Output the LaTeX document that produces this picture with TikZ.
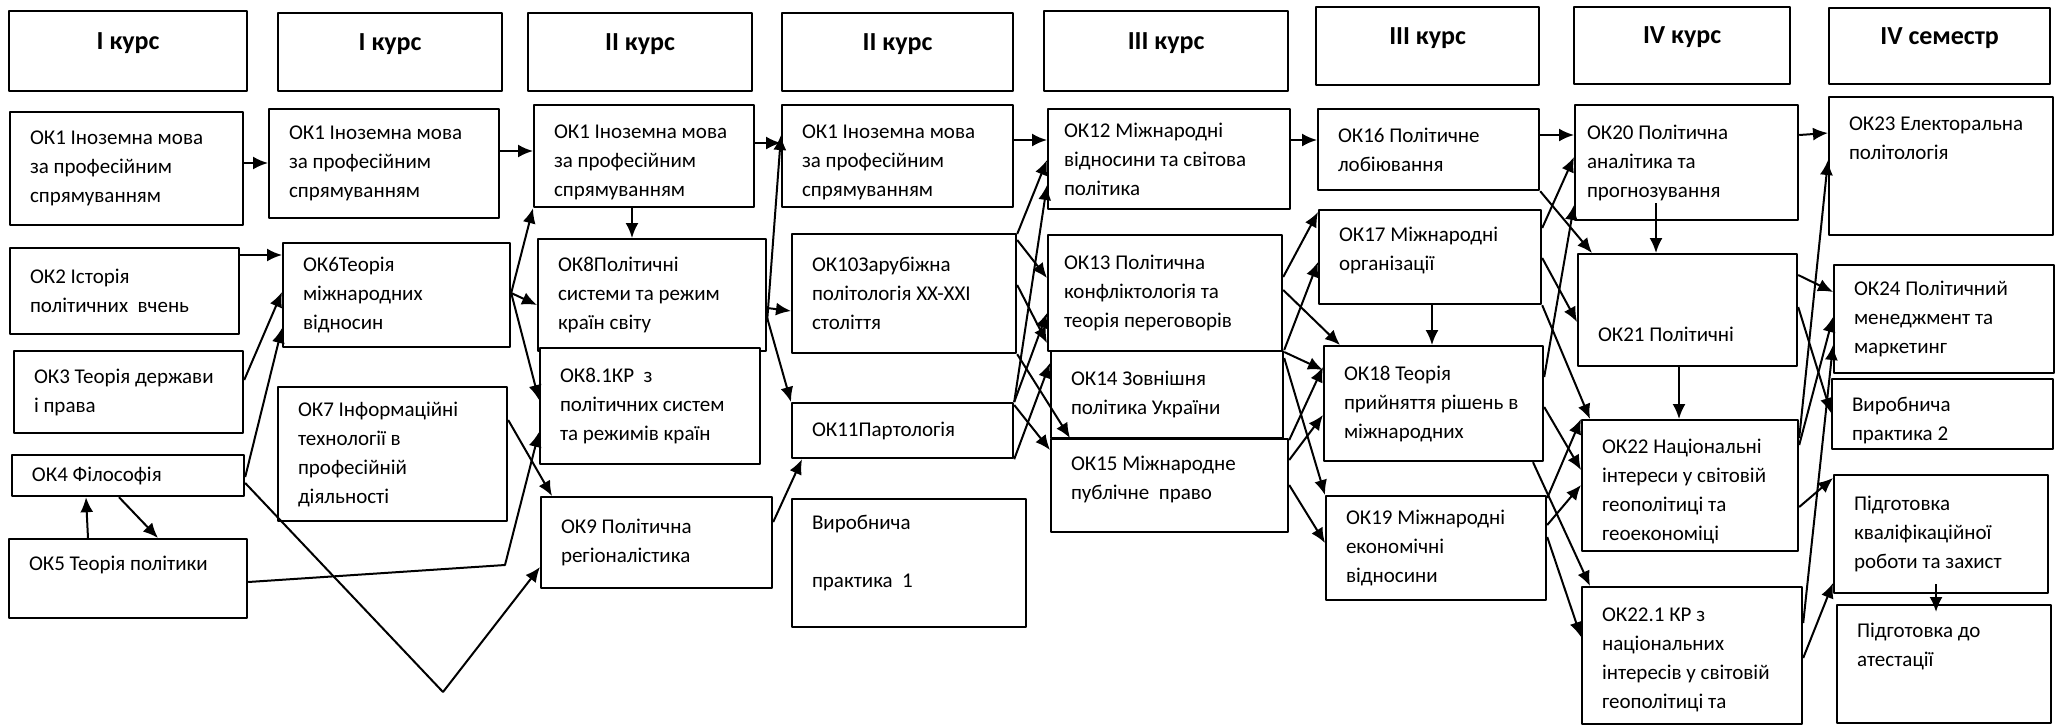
\documentclass[tikz,border=0pt]{standalone}
\usepackage{fontspec}
\setmainfont{Carlito}
\usetikzlibrary{arrows.meta}
\newcommand\fs{\fontsize{10.5}{14.5}\selectfont}
\newcommand\hfs{\fontsize{13}{15}\selectfont\bfseries}
\tikzset{
  box/.style={draw, fill=white, line width=1.1pt, anchor=north west, inner sep=0pt},
  head/.style={box, font=\hfs, text height=8.5pt, text depth=10.5pt},
  txt/.style={anchor=west, xshift=10pt, inner sep=0pt, align=left, font=\fs},
}
\begin{document}
\begin{tikzpicture}[>={Latex[length=7.5pt,width=6.5pt]}, line join=bevel, x=0.5pt, y=-0.5pt, line width=1pt]
\useasboundingbox (0,0) rectangle (2062,725);
%% headers
\node (h1) at (8,10) [head, minimum width=119pt, minimum height=40pt] {І курс};
\node (h2) at (277,12) [head, minimum width=112pt, minimum height=39pt] {І курс};
\node (h3) at (527,12) [head, minimum width=112pt, minimum height=39pt] {ІІ курс};
\node (h4) at (781,12) [head, minimum width=115.5pt, minimum height=39pt] {ІІ курс};
\node (h5) at (1043,10) [head, minimum width=122pt, minimum height=40pt] {ІІІ курс};
\node (h6) at (1315,6) [head, minimum width=111.5pt, minimum height=39pt] {ІІІ курс};
\node (h7) at (1573,6) [head, minimum width=108pt, minimum height=38.5pt] {IV курс};
\node (h8) at (1828,7) [head, minimum width=110.5pt, minimum height=38pt] {IV семестр};
%% I
\node (ok1a) at (9,111) [box, minimum width=116.5pt, minimum height=56.5pt, label={[txt]west:{ОК1 Іноземна мова\\за професійним\\спрямуванням}}] {};
\node (ok2) at (9,247) [box, minimum width=114.5pt, minimum height=43pt, label={[txt]west:{ОК2 Історія\\політичних~~вчень}}] {};
\node (ok3) at (13,350) [box, minimum width=114.5pt, minimum height=41pt, label={[txt]west:{ОК3 Теорія держави\\і права}}] {};
\node (ok4) at (11,454) [box, minimum width=116pt, minimum height=20.5pt, label={[txt]west:{ОК4 Філософія}}] {};
\node (ok5) at (8,538) [box, minimum width=119pt, minimum height=39.5pt, label={[txt, yshift=7pt]west:{ОК5 Теорія політики}}] {};
%% I (2)
\node (ok1b) at (268,108) [box, minimum width=115pt, minimum height=54.5pt, label={[txt]west:{ОК1 Іноземна мова\\за професійним\\спрямуванням}}] {};
\node (ok6) at (282,242) [box, minimum width=113.5pt, minimum height=52pt, label={[txt]west:{ОК6Теорія\\міжнародних\\відносин}}] {};
\node (ok7) at (277,386) [box, minimum width=114.5pt, minimum height=67pt, label={[txt]west:{ОК7 Інформаційні\\технології в\\професійній\\діяльності}}] {};
%% II
\node (ok1c) at (533,104) [box, minimum width=110pt, minimum height=51pt, label={[txt, yshift=-3pt]west:{ОК1 Іноземна мова\\за професійним\\спрямуванням}}] {};
\node (ok8) at (537,238) [box, minimum width=114pt, minimum height=56pt, label={[txt]west:{ОК8Політичні\\системи та режим\\країн світу}}] {};
\node (ok81) at (539,347) [box, minimum width=110pt, minimum height=58pt, label={[txt]west:{ОК8.1КР~~з\\політичних систем\\та режимів країн}}] {};
\node (ok9) at (540,496) [box, minimum width=115.5pt, minimum height=45.5pt, label={[txt]west:{ОК9 Політична\\регіоналістика}}] {};
%% II (2)
\node (ok1d) at (781,104) [box, minimum width=115.5pt, minimum height=51pt, label={[txt, yshift=-3pt]west:{ОК1 Іноземна мова\\за професійним\\спрямуванням}}] {};
\node (ok10) at (791,233) [box, minimum width=112pt, minimum height=59.5pt, label={[txt]west:{ОК10Зарубіжна\\політологія XX-XXI\\століття}}] {};
\node (ok11) at (791,402) [box, minimum width=110.5pt, minimum height=27.5pt, label={[txt]west:{ОК11Партологія}}] {};
\node (vp1) at (791,498) [box, minimum width=117pt, minimum height=64pt, label={[txt, yshift=5pt]west:{Виробнича\\[14.5pt]практика~~1}}] {};
%% III
\node (ok12) at (1047,108) [box, minimum width=121pt, minimum height=50pt, label={[txt, xshift=-2pt]west:{ОК12 Міжнародні\\відносини та світова\\політика}}] {};
\node (ok13) at (1047,234) [box, minimum width=117pt, minimum height=58pt, label={[txt, xshift=-2pt]west:{ОК13 Політична\\конфліктологія та\\теорія переговорів}}] {};
\node (ok14) at (1050,350) [box, minimum width=116pt, minimum height=43.5pt, label={[txt]west:{ОК14 Зовнішня\\політика України}}] {};
\node (ok15) at (1050,438) [box, minimum width=118.5pt, minimum height=46.5pt, label={[txt, yshift=3pt]west:{ОК15 Міжнародне\\публічне~~право}}] {};
%% III (2)
\node (ok16) at (1317,108) [box, minimum width=110.5pt, minimum height=40.5pt, label={[txt]west:{ОК16 Політичне\\лобіювання}}] {};
\node (ok17) at (1318,209) [box, minimum width=111pt, minimum height=47pt, label={[txt, yshift=3.5pt]west:{ОК17 Міжнародні\\організації}}] {};
\node (ok18) at (1323,345) [box, minimum width=109.5pt, minimum height=57.5pt, label={[txt]west:{ОК18 Теорія\\прийняття рішень в\\міжнародних}}] {};
\node (ok19) at (1325,495) [box, minimum width=110pt, minimum height=52pt, label={[txt]west:{ОК19 Міжнародні\\економічні\\відносини}}] {};
%% IV
\node (ok20) at (1574,104) [box, minimum width=111.5pt, minimum height=57.5pt, label={[txt, xshift=-4pt]west:{ОК20 Політична\\аналітика та\\прогнозування}}] {};
\node (ok21) at (1577,253) [box, minimum width=109.5pt, minimum height=56pt, label={[txt, yshift=-12pt]west:{ОК21 Політичні}}] {};
\node (ok22) at (1581,419) [box, minimum width=108pt, minimum height=65.5pt, label={[txt, yshift=-3pt]west:{ОК22 Національні\\інтереси у світовій\\геополітиці та\\геоекономіці}}] {};
\node (ok221) at (1581,586) [box, minimum width=110pt, minimum height=68.5pt, label={[txt, yshift=-2pt]west:{ОК22.1 КР з\\національних\\інтересів у світовій\\геополітиці та}}] {};
%% IV semester
\node (ok23) at (1828,96) [box, minimum width=112pt, minimum height=69pt, label={[txt, yshift=14pt]west:{ОК23 Електоральна\\політологія}}] {};
\node (ok24) at (1833,264) [box, minimum width=110pt, minimum height=54pt, label={[txt]west:{ОК24 Політичний\\менеджмент та\\маркетинг}}] {};
\node (vp2) at (1831,378) [box, minimum width=110.5pt, minimum height=35pt, label={[txt, yshift=-3pt]west:{Виробнича\\практика 2}}] {};
\node (kval) at (1833,474) [box, minimum width=107pt, minimum height=59pt, label={[txt]west:{Підготовка\\кваліфікаційної\\роботи та захист}}] {};
\node (atest) at (1836,604) [box, minimum width=107pt, minimum height=59pt, label={[txt, yshift=9pt]west:{Підготовка до\\атестації}}] {};
%% bends
\coordinate (b1) at (505,565);
\coordinate (b2) at (443,692);
%% I -> I
\draw [->] (ok1a.east |- 0,163) -- (ok1b.west |- 0,163);
\draw [->] (ok2.east |- 0,255) -- (ok6.west |- 0,255);
\draw [->] (ok3.east |- 0,380) -- (ok6.west |- 0,292);
\draw [->] (ok4.east |- 0,477) -- (ok6.west |- 0,328);
\draw [->] (ok5.north -| 88,0) -- (ok4.south -| 86,0);
\draw [->] (ok4.south -| 119,0) -- (ok5.north -| 158,0);
\draw [->] (ok5.east |- 0,582) -- (b1) -- (ok81.west |- 0,432);
\draw [->] (ok4.east |- 0,483) -- (b2) -- (ok9.west |- 0,567);
\draw [->] (ok7.east |- 0,420) -- (ok9.north -| 552,0);
%% I -> II
\draw [->] (ok1b.east |- 0,151) -- (ok1c.west |- 0,151);
\draw [->] (ok6.east |- 0,293) -- (ok1c.south west);
\draw [->] (ok6.east |- 0,293) -- (ok8.west |- 0,305);
\draw [->] (ok6.east |- 0,293) -- (ok81.west |- 0,400);
\draw [->] (ok1c.south -| 632,0) -- (ok8.north -| 632,0);
%% II -> II
\draw [->] (ok1c.east |- 0,143) -- (ok1d.west |- 0,143);
\draw [->] (ok8.east |- 0,320) -- (ok1d.west |- 0,135);
\draw [->] (ok8.east |- 0,308) -- (ok10.west |- 0,311);
\draw [->] (ok8.east |- 0,318) -- (ok11.north west);
\draw [->] (ok9.east |- 0,522) -- (ok11.south -| 802,0);
%% II -> III
\draw [->] (ok1d.east |- 0,140) -- (ok12.west |- 0,140);
\draw [->] (ok10.east |- 0,234) -- (ok12.west |- 0,160);
\draw [->] (ok10.east |- 0,240) -- (ok13.west |- 0,278);
\draw [->] (ok10.east |- 0,285) -- (ok13.west |- 0,343);
\draw [->] (ok10.south east) -- (ok15.north -| 1070,0);
\draw [->] (ok11.north east) -- (ok12.west |- 0,185);
\draw [->] (ok11.north east) -- (ok13.west |- 0,313);
\draw [->] (ok11.south east) -- (ok14.west |- 0,363);
\draw [->] (ok11.east |- 0,405) -- (ok15.west |- 0,450);
%% III -> III
\draw [->] (ok12.east |- 0,140) -- (ok16.west |- 0,140);
\draw [->] (ok13.east |- 0,277) -- (ok17.west |- 0,212);
\draw [->] (ok14.east |- 0,350) -- (ok17.west |- 0,262);
\draw [->] (ok13.east |- 0,290) -- (ok18.north -| 1340,0);
\draw [->] (ok14.east |- 0,352) -- (ok18.west |- 0,370);
\draw [->] (ok14.east |- 0,358) -- (ok19.north west);
\draw [->] (ok15.east |- 0,440) -- (ok18.west |- 0,367);
\draw [->] (ok15.east |- 0,460) -- (ok18.west |- 0,415);
\draw [->] (ok15.east |- 0,485) -- (ok19.west |- 0,543);
\draw [->] (ok17.south -| 1432,0) -- (ok18.north -| 1432,0);
%% III -> IV
\draw [->] (ok16.east |- 0,135) -- (ok20.west |- 0,135);
\draw [->] (ok16.south east) -- (ok21.north -| 1592,0);
\draw [->] (ok17.east |- 0,228) -- (ok20.west |- 0,157);
\draw [->] (ok18.east |- 0,377) -- (ok20.west |- 0,205);
\draw [->] (ok17.east |- 0,258) -- (ok21.west |- 0,322);
\draw [->] (ok17.south east) -- (ok22.north -| 1590,0);
\draw [->] (ok18.east |- 0,407) -- (ok22.west |- 0,470);
\draw [->] (ok19.east |- 0,498) -- (ok22.north west);
\draw [->] (ok19.east |- 0,525) -- (ok22.west |- 0,485);
\draw [->] (ok18.south -| 1533,0) -- (ok221.north -| 1590,0);
\draw [->] (ok19.east |- 0,537) -- (ok221.west |- 0,637);
\draw [->, shorten <=-9pt] (ok20.south -| 1656,0) -- (ok21.north -| 1656,0);
\draw [->] (ok21.south -| 1679,0) -- (ok22.north -| 1679,0);
%% IV -> semester
\draw [->] (ok20.east |- 0,135) -- (ok23.west |- 0,133);
\draw [->] (ok21.east |- 0,275) -- (ok24.west |- 0,292);
\draw [->] (ok21.east |- 0,307) -- (vp2.west |- 0,413);
\draw [->] (ok22.east |- 0,438) -- (ok23.west |- 0,160);
\draw [->] (ok22.east |- 0,445) -- (ok24.west |- 0,317);
\draw [->] (ok221.east |- 0,623) -- (ok24.west |- 0,345);
\draw [->] (ok22.east |- 0,507) -- (kval.west |- 0,478);
\draw [->] (ok221.east |- 0,658) -- (kval.west |- 0,583);
\draw [->, shorten <=-5pt, shorten >=-4pt] (kval.south -| 1936,0) -- (atest.north -| 1936,0);
%
\end{tikzpicture}
\end{document}
